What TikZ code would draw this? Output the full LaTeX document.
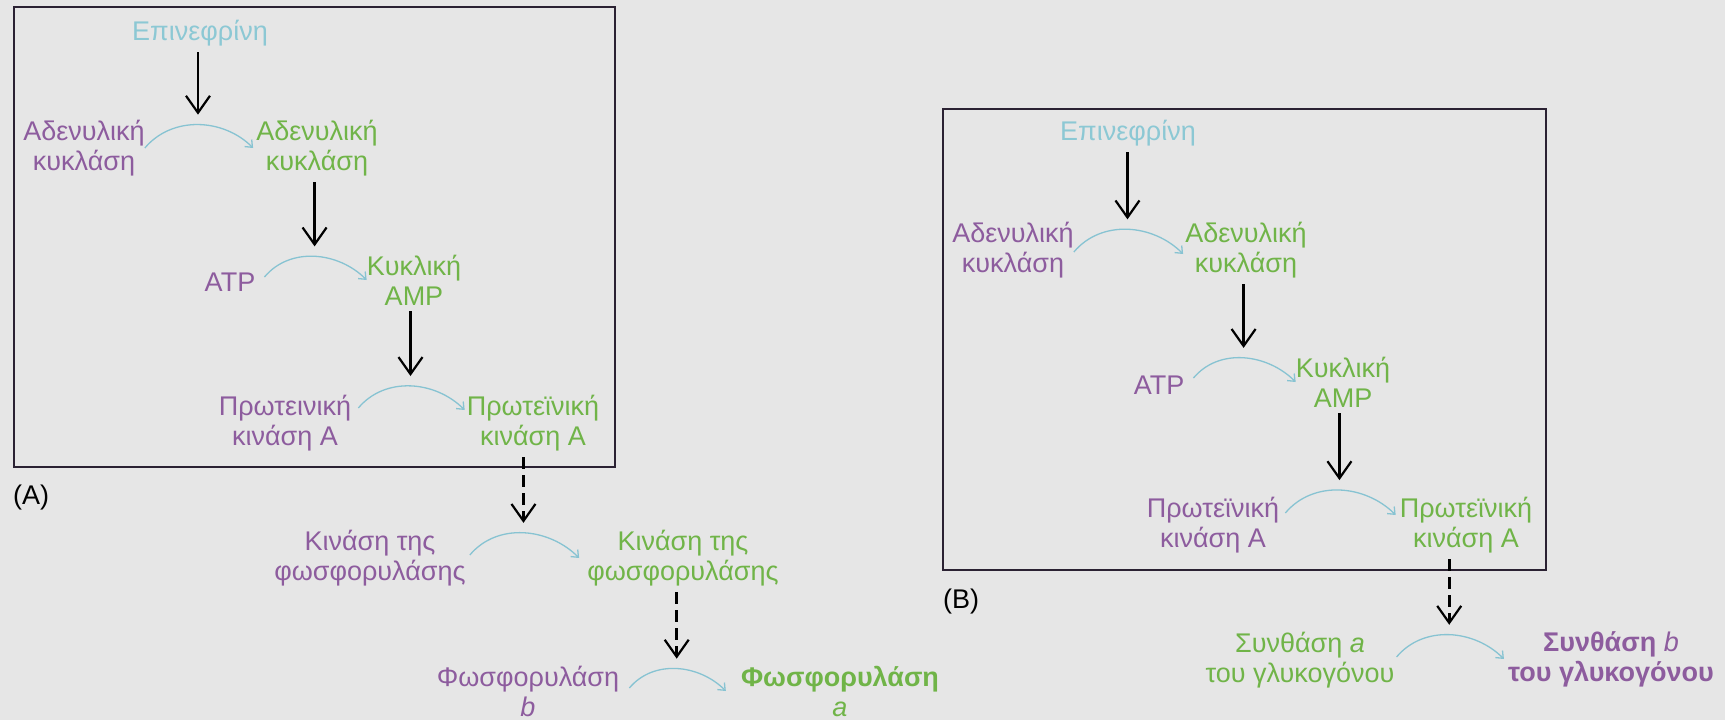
\documentclass[tikz,border=0pt]{standalone}
\usepackage{fontspec}
\setmainfont{Liberation Sans}
\usetikzlibrary{arrows.meta}
\definecolor{bgcol}{HTML}{E6E6E6}
\definecolor{vio}{HTML}{8D5C9E}
\definecolor{grn}{HTML}{70B448}
\definecolor{sky}{HTML}{8CC8D4}
\definecolor{curv}{HTML}{87C3D2}
\definecolor{boxcol}{HTML}{2B2233}
\begin{document}
\begin{tikzpicture}[x=1pt,y=-1pt,
  every node/.style={inner sep=0pt,align=center,font=\fontsize{27}{30}\selectfont},
  educt/.style={text=vio},
  product/.style={text=grn},
  signal/.style={text=sky},
  turn/.style={draw=curv,line width=1.3pt,out=50,in=135,-{Straight Barb[length=6pt,width=10pt]}},
  flow/.style={line width=2.6pt,shorten <=6pt,-{Straight Barb[length=17pt,width=24pt,line width=2.2pt]}},
  flowdash/.style={flow,dash pattern=on 12pt off 6pt}]
\fill[bgcol](0,0)rectangle(1725,720);
% panel A
\draw[boxcol,line width=2.6pt](14,7)rectangle(615,467);
\node[anchor=west](labA)at(13,498){(A)};
\node[signal](epiA)at(200,33){Επινεφρίνη};
\node[educt](acA)at(84,148){Αδενυλική\\κυκλάση};
\node[product](acAg)at(317,148){Αδενυλική\\κυκλάση};
\node[educt](atpA)at(230,282){ATP};
\node[product](campA)at(414,280){Κυκλική\\AMP};
\node[educt](pkaA)at(285,423){Πρωτεινική\\κινάση Α};
\node[product](pkaAg)at(533,423){Πρωτεϊνική\\κινάση Α};
\node[educt](phkA)at(370,558){Κινάση της\\φωσφορυλάσης};
\node[product](phkAg)at(683,558){Κινάση της\\φωσφορυλάσης};
\node[educt](phbA)at(528,691){Φωσφορυλάση\\\textit{b}};
\node[product](phaA)at(840,691){\textbf{Φωσφορυλάση}\\\textit{a}};
\draw[turn](acA.east)to coordinate[pos=.5](kA1)([xshift=-3pt]acAg.west);
\draw[turn]([xshift=9pt,yshift=5pt]atpA.east)to coordinate[pos=.5](kA2)(campA.west);
\draw[turn]([xshift=7pt,yshift=15pt]pkaA.east)to coordinate[pos=.5](kA3)([xshift=-2pt,yshift=13pt]pkaAg.west);
\draw[turn]([xshift=4pt,yshift=3pt]phkA.east)to coordinate[pos=.5](kA4)([xshift=-8pt]phkAg.west);
\draw[turn]([xshift=10pt,yshift=3pt]phbA.east)to coordinate[pos=.5](kA5)([xshift=-15pt]phaA.west);
\draw[flow](epiA.south-|kA1)--([yshift=10pt]kA1);
\draw[flow](acAg.south-|kA2)--([yshift=10pt]kA2);
\draw[flow](campA.south-|kA3)--([yshift=10pt]kA3);
\draw[flowdash](pkaAg.south-|kA4)--([yshift=10pt]kA4);
\draw[flowdash](phkAg.south-|kA5)--([yshift=10pt]kA5);
% panel B
\draw[boxcol,line width=2.6pt](943,109)rectangle(1546,570);
\node[anchor=west](labB)at(943,602){(B)};
\node[signal](epiB)at(1128,133){Επινεφρίνη};
\node[educt](acB)at(1013,250){Αδενυλική\\κυκλάση};
\node[product](acBg)at(1246,250){Αδενυλική\\κυκλάση};
\node[educt](atpB)at(1159,385){ATP};
\node[product](campB)at(1343,382){Κυκλική\\AMP};
\node[educt](pkaB)at(1213,525){Πρωτεϊνική\\κινάση Α};
\node[product](pkaBg)at(1466,525){Πρωτεϊνική\\κινάση Α};
\node[product](gsaB)at(1300,660){Συνθάση \textit{a}\\του γλυκογόνου};
\node[educt](gsbB)at(1611,659){\textbf{Συνθάση} \textit{b}\\\textbf{του γλυκογόνου}};
\draw[turn]([yshift=-2pt]acB.east)to coordinate[pos=.5](kB1)([xshift=-2pt,yshift=-4pt]acBg.west);
\draw[turn]([xshift=9pt,yshift=7pt]atpB.east)to coordinate[pos=.5](kB2)(campB.west);
\draw[turn]([xshift=6pt,yshift=12pt]pkaB.east)to coordinate[pos=.5](kB3)([xshift=-4pt,yshift=10pt]pkaBg.west);
\draw[turn]([xshift=2pt,yshift=3pt]gsaB.east)to coordinate[pos=.5](kB4)([xshift=-4pt]gsbB.west);
\draw[flow](epiB.south-|kB1)--([yshift=10pt]kB1);
\draw[flow](acBg.south-|kB2)--([yshift=10pt]kB2);
\draw[flow](campB.south-|kB3)--([yshift=10pt]kB3);
\draw[flowdash](pkaBg.south-|kB4)--([yshift=10pt]kB4);
\end{tikzpicture}
\end{document}
